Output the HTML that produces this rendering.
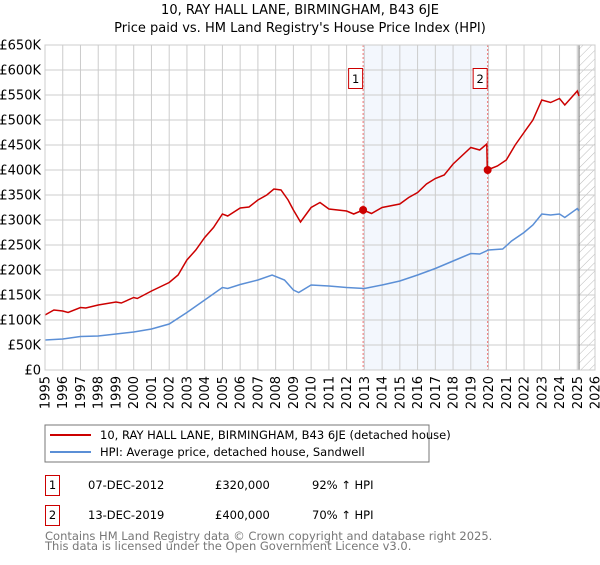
<!DOCTYPE html>
<html><head><meta charset="utf-8"><style>
body{margin:0;background:#fff;font-family:"Liberation Sans","DejaVu Sans",sans-serif}
svg text{font-family:"DejaVu Sans","Liberation Sans",sans-serif}
</style></head><body>
<svg id="c" width="600" height="560" viewBox="0 0 600 560" xmlns="http://www.w3.org/2000/svg">
<defs><pattern id="hatch" width="6" height="6" patternUnits="userSpaceOnUse" patternTransform="rotate(45)"><line x1="0" y1="0" x2="0" y2="6" stroke="#bbb" stroke-width="1"/></pattern></defs>
<text x="300" y="14" text-anchor="middle" font-size="13" fill="#000">10, RAY HALL LANE, BIRMINGHAM, B43 6JE</text>
<text x="300" y="32" text-anchor="middle" font-size="13" fill="#000">Price paid vs. HM Land Registry's House Price Index (HPI)</text>
<g id="plot"></g>
<rect x="45" y="425" width="384" height="37" fill="#fff" stroke="#777"/>
<line x1="50" y1="435" x2="91" y2="435" stroke="#cc0000" stroke-width="2"/>
<text x="100" y="439" font-size="11.5">10, RAY HALL LANE, BIRMINGHAM, B43 6JE (detached house)</text>
<line x1="50" y1="452" x2="91" y2="452" stroke="#5b8fd6" stroke-width="2"/>
<text x="100" y="456" font-size="11.5">HPI: Average price, detached house, Sandwell</text>
<g>
<rect x="45.5" y="475.5" width="14" height="20" fill="#fff" stroke="#cc0000"/>
<text x="52.5" y="489" text-anchor="middle" font-size="11.5">1</text>
<text x="88" y="489" font-size="11.5">07-DEC-2012</text>
<text x="215" y="489" font-size="11.5">£320,000</text>
<text x="312" y="489" font-size="11.5">92% ↑ HPI</text></g>
<g>
<rect x="45.5" y="505.5" width="14" height="20" fill="#fff" stroke="#cc0000"/>
<text x="52.5" y="519" text-anchor="middle" font-size="11.5">2</text>
<text x="88" y="519" font-size="11.5">13-DEC-2019</text>
<text x="215" y="519" font-size="11.5">£400,000</text>
<text x="312" y="519" font-size="11.5">70% ↑ HPI</text></g>
<text x="45" y="540" font-size="11.5" fill="#777">Contains HM Land Registry data © Crown copyright and database right 2025.</text>
<text x="45" y="550" font-size="11.5" fill="#777">This data is licensed under the Open Government Licence v3.0.</text>
</svg>
<script>
const yTicks=[0,50,100,150,200,250,300,350,400,450,500,550,600,650];
const yTickLabels=["£0","£50K","£100K","£150K","£200K","£250K","£300K","£350K","£400K","£450K","£500K","£550K","£600K","£650K"];
const years=[1995,1996,1997,1998,1999,2000,2001,2002,2003,2004,2005,2006,2007,2008,2009,2010,2011,2012,2013,2014,2015,2016,2017,2018,2019,2020,2021,2022,2023,2024,2025,2026];
const hpiT=[1995,1996,1997,1998,1999,2000,2001,2002,2003,2004,2005,2005.3,2006,2007,2007.8,2008.5,2009,2009.3,2010,2011,2012,2013,2014,2015,2016,2017,2018,2019,2019.5,2020,2020.8,2021.3,2022,2022.5,2023,2023.5,2024,2024.3,2025,2025.1];
const hpiV=[60,62,67,68,72,76,82,92,115,140,165,163,171,180,190,180,160,155,170,168,165,163,170,178,190,203,218,233,232,240,242,258,275,290,312,310,312,305,323,318];
const priceT=[1995,1995.5,1996,1996.3,1997,1997.3,1998,1999,1999.3,2000,2000.2,2001,2002,2002.5,2003,2003.5,2004,2004.5,2005,2005.3,2006,2006.5,2007,2007.5,2007.9,2008.3,2008.7,2009,2009.4,2010,2010.5,2011,2012,2012.4,2012.93,2013.4,2014,2015,2015.5,2016,2016.5,2017,2017.5,2018,2019,2019.5,2019.9,2019.93,2020.5,2021,2021.5,2022,2022.5,2023,2023.5,2024,2024.3,2025,2025.1];
const priceV=[110,120,118,115,125,124,130,136,134,145,143,158,175,190,220,240,265,285,312,308,324,326,340,350,362,360,340,320,296,325,335,322,318,312,320,313,325,332,345,355,372,383,390,412,445,440,452,400,408,420,450,475,500,540,535,543,530,558,548];
const saleT=[2012.93,2019.95];
const saleV=[320,400];
const saleLabels=["1","2"];
const X0=45,X1=595,Y0=370,Y1=45,xMin=1995,xMax=2026,yMax=650;
const xs=t=>X0+(t-xMin)/(xMax-xMin)*(X1-X0);
const ys=v=>Y0-v/yMax*(Y0-Y1);
const NS="http://www.w3.org/2000/svg";
const g=document.getElementById('plot');
function mk(tag,a){const e=document.createElementNS(NS,tag);for(const k in a)e.setAttribute(k,a[k]);g.appendChild(e);return e;}
let e;
e=mk('rect',{x:xs(saleT[0]),y:Y1,width:xs(saleT[1])-xs(saleT[0]),height:Y0-Y1,fill:'#eef3fc',opacity:0.7});


e=mk('rect',{x:xs(2025.1),y:Y1,width:X1-xs(2025.1),height:Y0-Y1,fill:'url(#hatch)'});


yTicks.forEach((v,i)=>{
 e=mk('line',{x1:X0,x2:X1,y1:ys(v),y2:ys(v),stroke:'#ccc'});
 
 
 e=mk('text',{x:X0-4,y:ys(v)+4.5,'text-anchor':'end','font-size':13});
 e.textContent=yTickLabels[i];
 
 
});
years.forEach(y=>{
 e=mk('line',{x1:xs(y),x2:xs(y),y1:Y1,y2:Y0,stroke:'#ccc'});
 
 
 e=mk('text',{x:0,y:0,'text-anchor':'end','font-size':13,transform:`translate(${xs(y)+4.5},${Y0+6}) rotate(-90)`});
 e.textContent=y;
 
 
});
e=mk('line',{x1:xs(2025.1),x2:xs(2025.1),y1:Y1,y2:Y0,stroke:'#888','stroke-width':1.2});


saleT.forEach((t,i)=>{
 e=mk('line',{x1:xs(t),x2:xs(t),y1:Y1,y2:Y0,stroke:'#f07070','stroke-dasharray':'2,2'});
 
 
});
const path=(T,V)=>T.map((t,i)=>(i?'L':'M')+xs(t).toFixed(1)+','+ys(V[i]).toFixed(1)).join('');
e=mk('path',{d:path(hpiT,hpiV),fill:'none',stroke:'#5b8fd6','stroke-width':1.5});


e=mk('path',{d:path(priceT,priceV),fill:'none',stroke:'#cc0000','stroke-width':1.5});


saleT.forEach((t,i)=>{
 e=mk('circle',{cx:xs(t),cy:ys(saleV[i]),r:4,fill:'#cc0000'});
 
 
 e=mk('rect',{x:xs(t)-14.5,y:68.5,width:14,height:20,fill:'#fff',stroke:'#cc0000'});
 
 
 e=mk('text',{x:xs(t)-7.5,y:83,'text-anchor':'middle','font-size':11.5});
 e.textContent=saleLabels[i];
 
 
});
e=mk('rect',{x:X0,y:Y1,width:X1-X0,height:Y0-Y1,fill:'none',stroke:'#ccc'});


</script>
</body></html>
